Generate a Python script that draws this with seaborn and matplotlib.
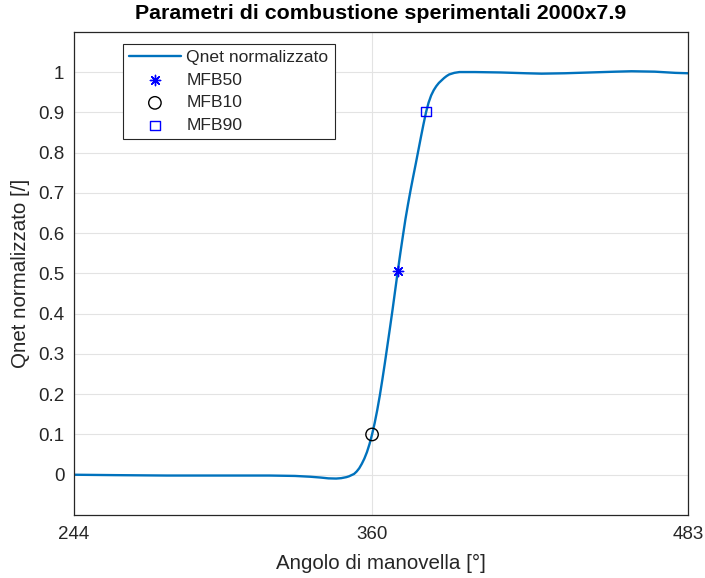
import matplotlib
matplotlib.use("Agg")
import matplotlib.pyplot as plt
import seaborn as sns
import pandas as pd

# curva Qnet normalizzata
angolo = [244, 260, 280, 300, 320, 330, 336, 340, 343, 346, 348, 350, 351, 352, 353,
          354, 355, 356, 357, 358, 359, 360, 361, 362, 363, 364, 365, 366, 367, 368,
          369, 370, 371, 372, 373, 374, 375, 376, 377, 378, 379, 380, 381, 382, 383,
          384, 385, 386, 387, 388, 389, 390, 392, 394, 400, 410, 420, 426, 435, 445,
          455, 461, 470, 478, 483]
qnet = [0.000, -0.001, -0.002, -0.002, -0.002, -0.003, -0.005, -0.007, -0.009, -0.0095,
        -0.0085, -0.006, -0.004, -0.001, 0.002, 0.008, 0.016, 0.027, 0.040, 0.056,
        0.076, 0.100, 0.128, 0.160, 0.196, 0.236, 0.278, 0.322, 0.366, 0.411, 0.458,
        0.505, 0.550, 0.593, 0.635, 0.672, 0.707, 0.740, 0.772, 0.805, 0.838, 0.870,
        0.900, 0.924, 0.942, 0.955, 0.965, 0.973, 0.979, 0.985, 0.990, 0.994, 0.998,
        1.000, 1.000, 0.999, 0.997, 0.996, 0.997, 0.999, 1.001, 1.002, 1.001, 0.998,
        0.997]

# punti MFB
mfb_nomi = ["MFB50", "MFB10", "MFB90"]
mfb_angolo = [370.0, 360.0, 381.1]
mfb_valore = [0.505, 0.100, 0.902]

xticks = [244, 360, 483]
yticks = [0, 0.1, 0.2, 0.3, 0.4, 0.5, 0.6, 0.7, 0.8, 0.9, 1]

sns.set_theme(style="whitegrid")
plt.rcParams["font.family"] = ["Liberation Sans", "DejaVu Sans"]

df = pd.DataFrame({"angolo": angolo, "qnet": qnet})

fig = plt.figure(figsize=(7.05, 5.78), dpi=100)
ax = fig.add_axes([0.105, 0.109, 0.871, 0.836])

sns.lineplot(data=df, x="angolo", y="qnet", ax=ax, color="#0072BD", linewidth=1.7,
             label="Qnet normalizzato")

stili = {
    "MFB50": dict(marker=(8, 2, 0), color="blue", s=55, linewidths=1.0),
    "MFB10": dict(marker="o", facecolors="none", edgecolors="black", s=80, linewidths=1.0),
    "MFB90": dict(marker="s", facecolors="none", edgecolors="blue", s=50, linewidths=1.0),
}
for nome, a, v in zip(mfb_nomi, mfb_angolo, mfb_valore):
    sns.scatterplot(x=[a], y=[v], ax=ax, label=nome, zorder=5, **stili[nome])

ax.set_xlim(244, 483)
ax.set_ylim(-0.1, 1.1)
ax.set_xticks(xticks)
ax.set_xticklabels([str(t) for t in xticks])
ax.set_yticks(yticks)
ax.set_yticklabels(["0" if t == 0 else ("1" if t == 1 else f"{t:g}") for t in yticks])

ax.grid(True, color="#e3e3e3", linewidth=0.8)
for sp in ax.spines.values():
    sp.set_color("#262626")
    sp.set_linewidth(0.9)
ax.tick_params(direction="in", length=4, width=0.8, colors="#262626",
               labelcolor="#262626", labelsize=13.5)
ax.tick_params(axis="x", pad=8)
ax.tick_params(axis="y", pad=7)

ax.set_title("Parametri di combustione sperimentali 2000x7.9", fontsize=15.4,
             fontweight="bold", color="black", pad=9)
ax.set_xlabel("Angolo di manovella [°]", fontsize=14.8, color="#262626", labelpad=8)
ax.set_ylabel("Qnet normalizzato [/]", fontsize=14.8, color="#262626", labelpad=6)

leg = ax.legend(loc="upper left", bbox_to_anchor=(0.079, 0.975), fontsize=12.6,
                frameon=True, fancybox=False, edgecolor="#262626", framealpha=1,
                handlelength=3.0, borderpad=0.35, labelspacing=0.42, handletextpad=0.3,
                borderaxespad=0)
leg.get_frame().set_linewidth(0.8)

fig.savefig("out.png", dpi=100)
